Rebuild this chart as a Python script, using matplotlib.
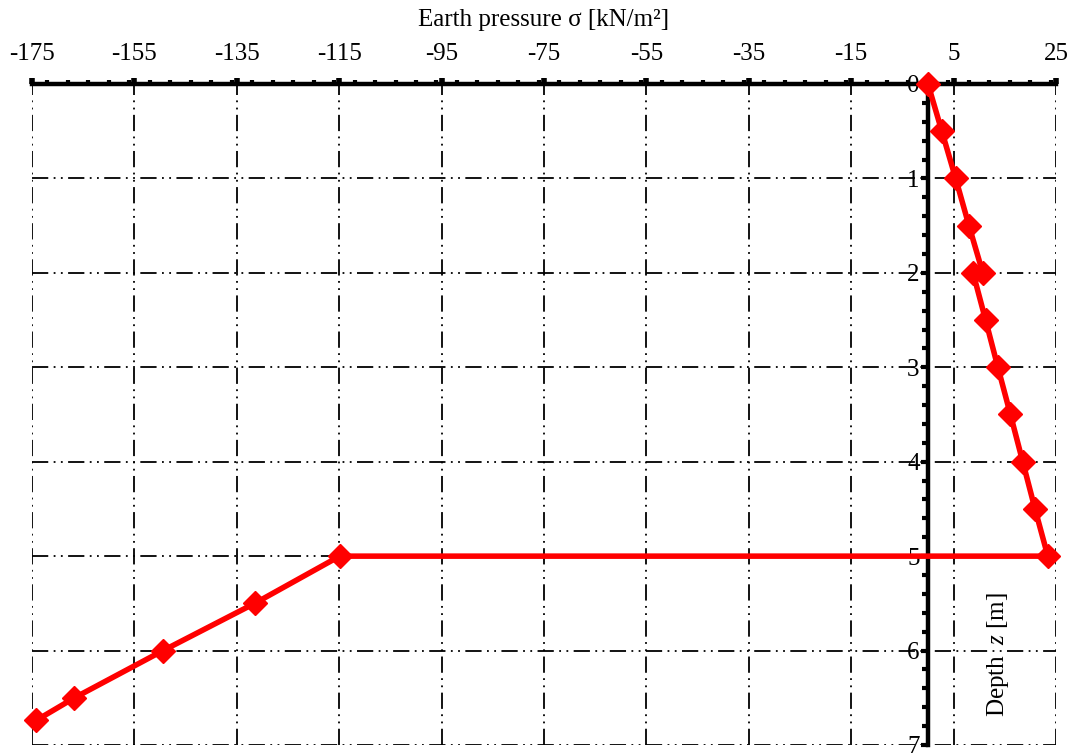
import matplotlib
matplotlib.use("Agg")
import matplotlib.pyplot as plt
from matplotlib.ticker import MultipleLocator, FixedLocator

# depth z [m] and earth pressure sigma [kN/m2]
depth = [0, 0.5, 1, 1.5, 2, 2, 2.5, 3, 3.5, 4, 4.5, 5, 5, 5.5, 6, 6.5, 6.74]
sigma = [0, 2.7, 5.4, 8.0, 10.7, 8.8, 11.25, 13.65, 16.1, 18.5, 20.9, 23.4,
         -114.9, -131.5, -149.4, -166.7, -174.2]

x_ticks = [-175, -155, -135, -115, -95, -75, -55, -35, -15, 5, 25]
y_ticks = [0, 1, 2, 3, 4, 5, 6, 7]

plt.rcParams['font.family'] = ['Liberation Serif', 'DejaVu Serif']
plt.rcParams['axes.unicode_minus'] = False
plt.rcParams['mathtext.fontset'] = 'custom'
plt.rcParams['mathtext.rm'] = 'Liberation Serif'
plt.rcParams['mathtext.it'] = 'Liberation Serif:italic'

fig = plt.figure(figsize=(10.75, 7.53), dpi=100)
ax = fig.add_axes([32/1075, 1 - 745/753, 1024/1075, 661/753])

ax.set_xlim(-175, 25)
ax.set_ylim(7, 0)

# grid, dash-dot-dot
grid_style = (0, (9, 3, 1, 3, 1, 3))
ax.xaxis.set_major_locator(FixedLocator(x_ticks))
ax.xaxis.set_minor_locator(MultipleLocator(4))
ax.yaxis.set_major_locator(FixedLocator(y_ticks))
ax.yaxis.set_minor_locator(MultipleLocator(0.2))
ax.grid(True, which='major', color='black', linestyle=grid_style, linewidth=1.3)

# spines: x axis on top, y axis through sigma = 0
ax.spines['right'].set_visible(False)
ax.spines['bottom'].set_visible(False)
ax.spines['top'].set_linewidth(3.2)
ax.spines['left'].set_linewidth(3.2)
ax.spines['left'].set_position(('data', 0))
ax.xaxis.tick_top()
ax.xaxis.set_label_position('top')

ax.tick_params(axis='x', which='major', direction='out', length=4, width=4,
               labelsize=18, pad=10)
ax.tick_params(axis='x', which='minor', direction='out', length=3, width=3)
ax.tick_params(axis='y', which='major', direction='out', length=5, width=3,
               labelsize=18, pad=1)
ax.tick_params(axis='y', which='minor', direction='out', length=4, width=3)

ax.plot(sigma, depth, color='#ff0000', linewidth=4, marker='D',
        markersize=12.5, clip_on=False, zorder=5)

ax.set_xlabel('Earth pressure σ [kN/m²]', fontsize=18, labelpad=12)
ax.set_ylabel(r'Depth $\;z$ [m]', fontsize=18, va='center')
ax.yaxis.set_label_coords((998 - 32) / 1024, (745 - 655) / 661)

fig.savefig('out.png', dpi=100)
